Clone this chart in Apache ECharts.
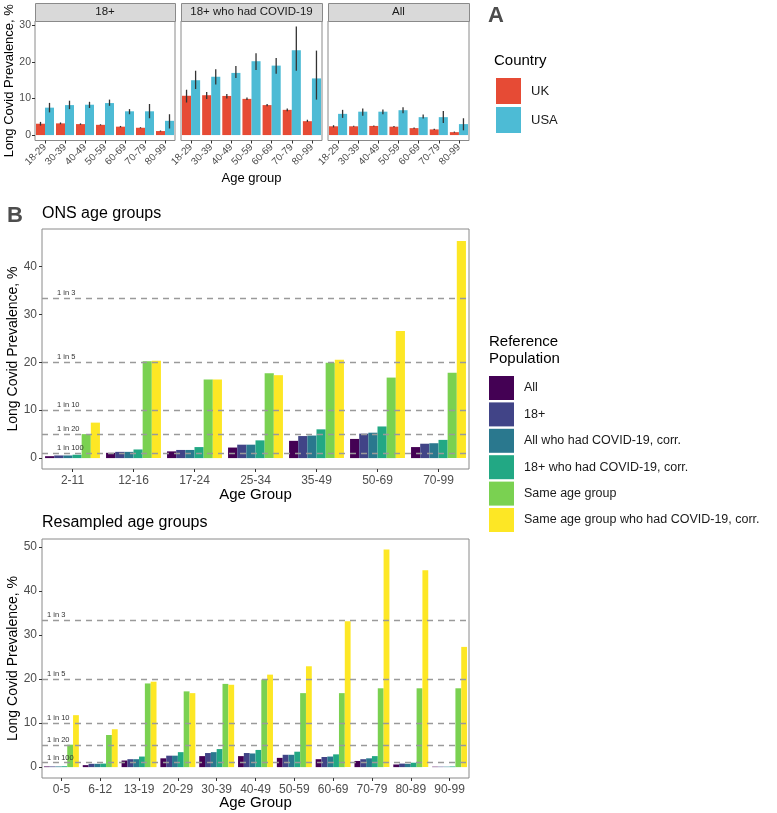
<!DOCTYPE html>
<html>
<head>
<meta charset="utf-8">
<script src="https://cdn.jsdelivr.net/npm/echarts@6/dist/echarts.min.js"></script>
<style>html,body{margin:0;padding:0;background:#fff}#c{width:777px;height:813px}</style>
</head>
<body>
<div id="c"></div>
<script>
// ---------- Panel A data ----------
const ageA = ['18-29','30-39','40-49','50-59','60-69','70-79','80-99'];
const facetsA = ['18+','18+ who had COVID-19','All'];
const countries = ['UK','USA'];
// facet "18+"
const uk18 = [3.1,3.2,3.0,2.8,2.3,2.0,1.1];
const uk18Lo = [2.6,2.95,2.8,2.65,2.1,1.85,0.95];
const uk18Hi = [3.6,3.45,3.2,2.95,2.5,2.15,1.25];
const usa18 = [7.5,8.2,8.3,8.75,6.5,6.5,3.9];
const usa18Lo = [6.2,7.1,7.4,8.0,5.7,4.6,1.8];
const usa18Hi = [8.8,9.4,9.1,9.7,7.1,8.5,5.7];
// facet "18+ who had COVID-19"
const ukCov = [10.75,10.9,10.7,9.9,8.2,6.9,3.8];
const ukCovLo = [8.9,9.9,10.0,9.6,7.9,6.5,3.6];
const ukCovHi = [12.4,11.8,11.2,10.3,8.5,7.3,4.2];
const usaCov = [15.0,15.95,17.0,20.2,19.0,23.2,15.5];
const usaCovLo = [12.6,13.8,15.6,17.8,16.8,17.6,9.7];
const usaCovHi = [17.6,18.0,18.9,22.4,21.1,29.7,23.1];
// facet "All"
const ukAll = [2.4,2.4,2.5,2.3,1.9,1.55,0.8];
const ukAllLo = [2.1,2.25,2.35,2.15,1.75,1.4,0.65];
const ukAllHi = [2.7,2.55,2.65,2.45,2.05,1.7,0.95];
const usaAll = [5.8,6.4,6.4,6.8,4.9,4.9,3.0];
const usaAllLo = [4.7,5.3,5.7,6.0,4.5,3.3,1.3];
const usaAllHi = [6.9,7.3,7.0,7.6,5.6,6.6,4.6];

// ---------- Panel B data ----------
const refPops = ['All','18+','All who had COVID-19, corr.','18+ who had COVID-19, corr.','Same age group','Same age group who had COVID-19, corr.'];
const ageOns = ['2-11','12-16','17-24','25-34','35-49','50-69','70-99'];
const onsAll = [0.4,1.1,1.4,2.2,3.6,4.0,2.3];
const ons18 = [0.55,1.3,1.7,2.8,4.6,5.1,3.0];
const onsAllCovid = [0.55,1.3,1.7,2.8,4.7,5.3,3.1];
const ons18Covid = [0.7,1.8,2.3,3.7,6.0,6.6,3.8];
const onsSame = [5.0,20.2,16.4,17.7,19.9,16.8,17.8];
const onsSameCovid = [7.4,20.3,16.4,17.3,20.5,26.5,45.3];

const ageRes = ['0-5','6-12','13-19','20-29','30-39','40-49','50-59','60-69','70-79','80-89','90-99'];
const resAll = [0.15,0.45,1.5,2.0,2.5,2.5,2.1,1.8,1.4,0.6,0.1];
const res18 = [0.15,0.75,1.8,2.6,3.2,3.2,2.8,2.3,1.8,0.8,0.1];
const resAllCovid = [0.15,0.75,1.8,2.6,3.4,3.1,2.8,2.4,2.0,0.75,0.1];
const res18Covid = [0.2,0.8,2.4,3.4,4.1,3.9,3.5,2.9,2.5,1.0,0.15];
const resSame = [5.1,7.3,19.0,17.2,18.9,19.9,16.8,16.8,17.9,17.9,17.9];
const resSameCovid = [11.8,8.6,19.4,16.8,18.7,21.0,22.9,33.1,49.4,44.7,27.3];

const refLineValues = [100/3, 20, 10, 5, 1];
const refLineLabels = ['1 in 3','1 in 5','1 in 10','1 in 20','1 in 100'];

const yTicksA = [0,10,20,30];
const yTicksOns = [0,10,20,30,40];
const yTicksRes = [0,10,20,30,40,50];

// ---------- styles ----------
const FONT = 'Liberation Sans, Arial, sans-serif';
const countryColors = ['#E64B35','#4DBBD5'];
const viridis = ['#440154','#414487','#2A788E','#22A884','#7AD151','#FDE725'];
const gray = '#4d4d4d';

const chart = echarts.init(document.getElementById('c'), null, {renderer:'canvas'});

const gridsA = [
  {left:35, top:21, width:140, height:119.5},
  {left:181, top:21, width:141, height:119.5},
  {left:328, top:21, width:141, height:119.5}
];
const gridB1 = {left:42, top:229, width:427, height:240};
const gridB2 = {left:42, top:539, width:427, height:239};

const grid = [...gridsA, gridB1, gridB2].map(g => Object.assign({show:true, borderColor:'#8a8a8a', borderWidth:1, backgroundColor:'#fff', containLabel:false, outerBoundsMode:'none'}, g));

const xAxis = [];
const yAxis = [];
gridsA.forEach((g,i) => {
  xAxis.push({type:'category', gridIndex:i, data:ageA,
    axisLine:{show:false, onZero:false}, axisTick:{show:true, alignWithLabel:true, length:3, lineStyle:{color:'#333'}},
    axisLabel:{rotate:45, fontSize:10, color:gray, fontFamily:FONT, margin:5, interval:0},
    name: i===1 ? 'Age group' : '', nameLocation:'middle', nameGap:31, nameMoveOverlap:false,
    nameTextStyle:{fontSize:13, color:'#000', fontFamily:FONT}});
  yAxis.push({type:'value', gridIndex:i, min:-1.485, max:31.2,
    splitLine:{show:false}, axisLine:{show:false},
    axisTick:{show:i===0, length:3, customValues:yTicksA, lineStyle:{color:'#333'}},
    axisLabel:{show:i===0, customValues:yTicksA, fontSize:10.5, color:gray, fontFamily:FONT, margin:4},
    name: i===0 ? 'Long Covid Prevalence, %' : '', nameLocation:'middle', nameGap:19, nameMoveOverlap:false,
    nameTextStyle:{fontSize:13, color:'#000', fontFamily:FONT}});
});
// B axes
[[ageOns, yTicksOns, -2.275, 47.8, 3], [ageRes, yTicksRes, -2.47, 51.8, 4]].forEach(([cats, ticks, mn, mx, gi]) => {
  xAxis.push({type:'category', gridIndex:gi, data:cats,
    axisLine:{show:false, onZero:false}, axisTick:{show:true, alignWithLabel:true, length:3, lineStyle:{color:'#333'}},
    axisLabel:{fontSize:12, color:gray, fontFamily:FONT, margin:6, interval:0},
    name:'Age Group', nameLocation:'middle', nameGap:gi===3 ? 18 : 17.5, nameMoveOverlap:false,
    nameTextStyle:{fontSize:15, color:'#000', fontFamily:FONT}});
  yAxis.push({type:'value', gridIndex:gi, min:mn, max:mx,
    splitLine:{show:false}, axisLine:{show:false},
    axisTick:{show:true, length:3, customValues:ticks, lineStyle:{color:'#333'}},
    axisLabel:{customValues:ticks, fontSize:12, color:gray, fontFamily:FONT, margin:5},
    name:'Long Covid Prevalence, %', nameLocation:'middle', nameGap:21.5, nameMoveOverlap:false,
    nameTextStyle:{fontSize:14, color:'#000', fontFamily:FONT}});
});

const series = [];
const facetData = [
  [[uk18,uk18Lo,uk18Hi],[usa18,usa18Lo,usa18Hi]],
  [[ukCov,ukCovLo,ukCovHi],[usaCov,usaCovLo,usaCovHi]],
  [[ukAll,ukAllLo,ukAllHi],[usaAll,usaAllLo,usaAllHi]]
];
facetData.forEach((fd, fi) => {
  fd.forEach(([vals], ci) => {
    series.push({type:'bar', name:countries[ci], xAxisIndex:fi, yAxisIndex:fi, data:vals,
      barCategoryGap:'10%', barGap:'0%', itemStyle:{color:countryColors[ci]}, silent:true});
  });
  fd.forEach(([vals, lo, hi], ci) => {
    const sign = ci === 0 ? -1 : 1;
    series.push({type:'custom', name:countries[ci]+' CI', xAxisIndex:fi, yAxisIndex:fi, silent:true, z:5,
      data: vals.map((v,i) => [i, lo[i], hi[i]]),
      encode:{x:0, y:[1,2]},
      renderItem:(params, api) => {
        const x = api.value(0);
        const p1 = api.coord([x, api.value(1)]);
        const p2 = api.coord([x, api.value(2)]);
        const cw = api.size([1,0])[0];
        const off = sign * cw * 0.225;
        return {type:'line', shape:{x1:p1[0]+off, y1:p1[1], x2:p2[0]+off, y2:p2[1]},
          style:{stroke:'#333', lineWidth:1.3}};
      }});
  });
});

function refMarkLine(labelPad){
  return {silent:true, symbol:'none', z:10,
    lineStyle:{type:[6,5], color:'#9a9a9a', width:1.3},
    label:{show:true, position:'insideStartTop', formatter:'{b}', fontSize:7.5, color:'#333', fontFamily:FONT, distance:[labelPad,1]},
    data: refLineValues.map((v,i) => ({yAxis:v, name:refLineLabels[i]}))};
}

const bSets = [
  {gi:3, arrs:[onsAll,ons18,onsAllCovid,ons18Covid,onsSame,onsSameCovid], pad:15},
  {gi:4, arrs:[resAll,res18,resAllCovid,res18Covid,resSame,resSameCovid], pad:5}
];
bSets.forEach(({gi, arrs, pad}) => {
  arrs.forEach((a, k) => {
    const s = {type:'bar', name:refPops[k], xAxisIndex:gi, yAxisIndex:gi, data:a,
      barCategoryGap:'10%', barGap:'0%', itemStyle:{color:viridis[k]}, silent:true};
    if (k === arrs.length - 1) s.markLine = refMarkLine(pad);
    series.push(s);
  });
});

const legendText = {fontSize:13, color:'#1a1a1a', fontFamily:FONT, padding:[0,0,0,5]};

const graphic = [];
// facet strips
gridsA.forEach((g,i) => {
  graphic.push({type:'rect', left:g.left, top:3, shape:{width:g.width, height:18},
    style:{fill:'#d9d9d9', stroke:'#8a8a8a', lineWidth:1}});
  graphic.push({type:'text', x:g.left + g.width/2, y:12,
    style:{text:facetsA[i], fontSize:11.5, fill:'#1a1a1a', fontFamily:FONT, align:'center', verticalAlign:'middle'}});
});
graphic.push({type:'text', x:488, y:16, style:{text:'A', fontSize:22, fontWeight:'bold', fill:'#4d4d4d', fontFamily:FONT, verticalAlign:'middle'}});
graphic.push({type:'text', x:7, y:216, style:{text:'B', fontSize:22, fontWeight:'bold', fill:'#4d4d4d', fontFamily:FONT, verticalAlign:'middle'}});
graphic.push({type:'text', x:494, y:61, style:{text:'Country', fontSize:15, fill:'#000', fontFamily:FONT, verticalAlign:'middle'}});
graphic.push({type:'text', x:42, y:214, style:{text:'ONS age groups', fontSize:16, fill:'#000', fontFamily:FONT, verticalAlign:'middle'}});
graphic.push({type:'text', x:42, y:523, style:{text:'Resampled age groups', fontSize:16, fill:'#000', fontFamily:FONT, verticalAlign:'middle'}});
graphic.push({type:'text', x:489, y:342, style:{text:'Reference', fontSize:15, fill:'#000', fontFamily:FONT, verticalAlign:'middle'}});
graphic.push({type:'text', x:489, y:359, style:{text:'Population', fontSize:15, fill:'#000', fontFamily:FONT, verticalAlign:'middle'}});

chart.setOption({
  animation:false,
  backgroundColor:'#fff',
  textStyle:{fontFamily:FONT},
  grid, xAxis, yAxis, series, graphic,
  legend:[
    {data:countries, orient:'vertical', left:496, top:78, padding:0, itemWidth:25, itemHeight:26, itemGap:3,
      icon:'rect', selectedMode:false, textStyle:legendText},
    {data:refPops, orient:'vertical', left:489, top:376, padding:0, itemWidth:25, itemHeight:24, itemGap:2.4,
      icon:'rect', selectedMode:false, textStyle:Object.assign({}, legendText, {fontSize:12.5})}
  ]
});
</script>
</body>
</html>
